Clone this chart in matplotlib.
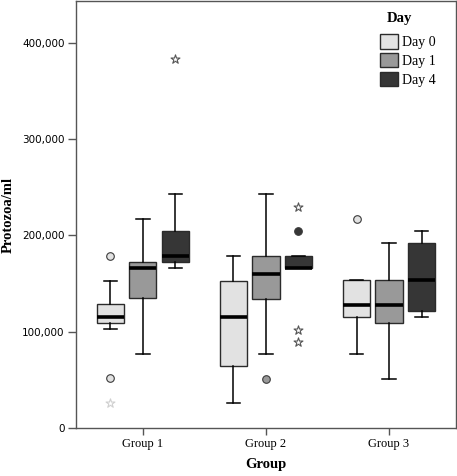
import matplotlib
matplotlib.use("Agg")
import matplotlib.pyplot as plt
from matplotlib.patches import Patch
from matplotlib.ticker import FuncFormatter

# box plot summary values (order: Group 1, Group 2, Group 3)
groups = ["Group 1", "Group 2", "Group 3"]
days = ["Day 0", "Day 1", "Day 4"]
day_colors = ["#e2e2e2", "#999999", "#363636"]

whislo = {
    "Day 0": [102400, 25600, 77100],
    "Day 1": [76800, 76800, 51200],
    "Day 4": [166400, 166400, 115200],
}
q1 = {
    "Day 0": [108700, 64000, 115200],
    "Day 1": [134600, 134200, 108700],
    "Day 4": [172600, 166400, 121400],
}
med = {
    "Day 0": [114900, 115200, 127700],
    "Day 1": [166400, 159900, 127700],
    "Day 4": [178900, 166400, 153300],
}
q3 = {
    "Day 0": [128400, 152900, 153300],
    "Day 1": [172600, 178500, 153300],
    "Day 4": [204800, 178500, 191700],
}
whishi = {
    "Day 0": [152900, 178500, 153300],
    "Day 1": [217000, 242900, 191700],
    "Day 4": [242900, 178500, 204500],
}

# outliers: (group index, day, value)
circle_outliers = [
    (0, "Day 0", 178800), (0, "Day 0", 51600),
    (1, "Day 1", 51200), (1, "Day 4", 204800),
    (2, "Day 0", 217000),
]
star_outliers = [
    (0, "Day 0", 25600), (0, "Day 4", 383000),
    (1, "Day 4", 229700), (1, "Day 4", 102000), (1, "Day 4", 89300),
]
star_colors = {"Day 0": "#d0d0d0", "Day 1": "#555555", "Day 4": "#555555"}

fig = plt.figure(figsize=(4.57, 4.76), dpi=100)
ax = fig.add_axes([0.166, 0.1008, 0.832, 0.897])

offset = 0.264
width = 0.22
edge = "#2b2b2b"

for d, day in enumerate(days):
    shift = (d - 1) * offset
    stats = []
    for g in range(len(groups)):
        stats.append({
            "whislo": whislo[day][g], "q1": q1[day][g], "med": med[day][g],
            "q3": q3[day][g], "whishi": whishi[day][g], "fliers": [],
        })
    pos = [g + shift for g in range(len(groups))]
    ax.bxp(stats, positions=pos, widths=width, capwidths=width * 0.5,
           patch_artist=True, showfliers=False, manage_ticks=False,
           boxprops=dict(facecolor=day_colors[d], edgecolor=edge, linewidth=1.0),
           whiskerprops=dict(color="black", linewidth=1.1),
           capprops=dict(color="black", linewidth=1.1),
           medianprops=dict(color="black", linewidth=2.6, solid_capstyle="butt"))

for g, day, v in circle_outliers:
    x = g + (days.index(day) - 1) * offset
    ax.scatter(x, v, s=30, marker="o", facecolor=day_colors[days.index(day)],
               edgecolor="#3a3a3a", linewidth=0.8, zorder=5)
for g, day, v in star_outliers:
    x = g + (days.index(day) - 1) * offset
    ax.scatter(x, v, s=45, marker="*", facecolor="white",
               edgecolor=star_colors[day], linewidth=0.8, zorder=5)

ax.set_xlim(-0.545, 2.545)
ax.set_ylim(0, 443500)
ax.set_xticks(range(len(groups)))
ax.set_xticklabels(groups, family="Liberation Serif", fontsize=9)
ax.set_yticks([0, 100000, 200000, 300000, 400000])
ax.yaxis.set_major_formatter(FuncFormatter(lambda v, p: f"{int(v):,}"))
for lab in ax.get_yticklabels():
    lab.set_family("DejaVu Sans")
    lab.set_fontsize(7.5)
ax.tick_params(axis="y", length=6, width=1, color="#555555", pad=2)
ax.tick_params(axis="x", length=5, width=1, color="#555555", pad=2)
for sp in ax.spines.values():
    sp.set_color("#555555")
    sp.set_linewidth(1.0)

ax.set_ylabel("Protozoa/ml", family="Liberation Serif", fontweight="bold",
              fontsize=10.5)
ax.yaxis.set_label_coords(-0.161, 0.5)
ax.set_xlabel("Group", family="Liberation Serif", fontweight="bold",
              fontsize=10.5)
ax.xaxis.set_label_coords(0.5, -0.071)

handles = [Patch(facecolor=c, edgecolor=edge, linewidth=1.0) for c in day_colors]
leg = ax.legend(handles, days, loc="upper right",
                bbox_to_anchor=(0.961, 0.935), frameon=False,
                prop={"family": "Liberation Serif", "size": 10},
                handlelength=1.3, handleheight=1.2, handletextpad=0.3,
                labelspacing=0.28, borderaxespad=0.0)
ax.text(0.852, 0.958, "Day", transform=ax.transAxes, ha="center", va="center",
        family="Liberation Serif", fontweight="bold", fontsize=10.5)

fig.savefig("out.png", dpi=100)
